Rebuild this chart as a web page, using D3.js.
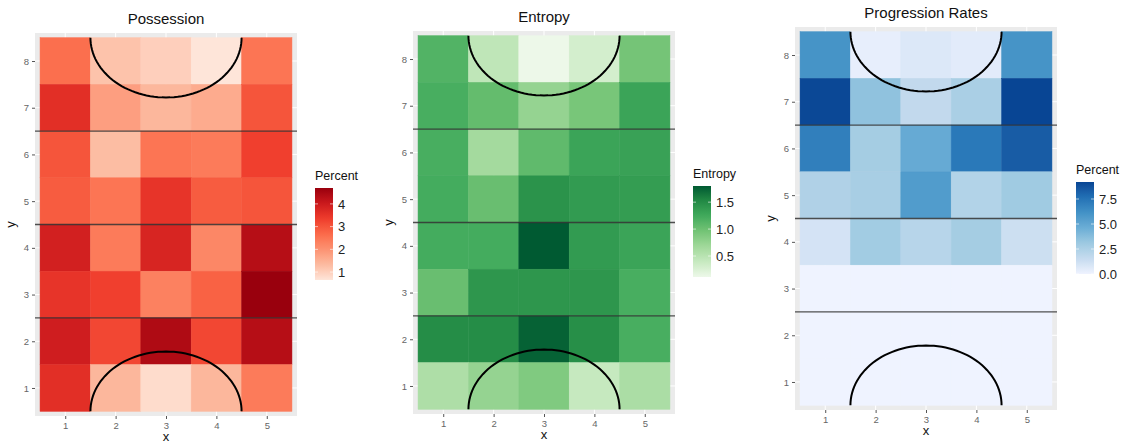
<!DOCTYPE html>
<html>
<head>
<meta charset="utf-8">
<script src="https://cdn.jsdelivr.net/npm/d3@7"></script>
<style>
  body { margin: 0; background: #fff; }
  svg { display: block; font-family: "Liberation Sans", Arial, sans-serif; }
</style>
</head>
<body>
<div id="chart"></div>
<script>
const xCats = [1, 2, 3, 4, 5]
const yCats = [8, 7, 6, 5, 4, 3, 2, 1]

// rows run from y = 8 (top) down to y = 1, columns x = 1..5
const possession = [
  [2.6, 1.2, 1.0, 0.65, 2.5],
  [3.6, 1.8, 1.4, 1.6, 3.0],
  [3.0, 1.3, 2.5, 2.4, 3.3],
  [2.9, 2.5, 3.5, 2.9, 3.0],
  [3.9, 2.4, 3.8, 2.2, 4.3],
  [3.5, 3.3, 2.3, 2.8, 4.7],
  [3.95, 3.2, 4.4, 3.2, 4.3],
  [3.6, 1.4, 0.8, 1.4, 2.4]
]
const entropy = [
  [1.15, 0.45, 0.11, 0.3, 0.95],
  [1.2, 1.05, 0.75, 0.93, 1.3],
  [1.2, 0.65, 1.07, 1.3, 1.32],
  [1.22, 1.02, 1.45, 1.38, 1.36],
  [1.22, 1.22, 1.8, 1.38, 1.3],
  [1.02, 1.42, 1.42, 1.42, 1.2],
  [1.5, 1.5, 1.75, 1.48, 1.2],
  [0.58, 0.75, 0.88, 0.4, 0.6]
]
const progression = [
  [6.0, 0.3, 0.7, 0.5, 6.0],
  [9.1, 3.5, 1.7, 2.6, 9.2],
  [7.0, 2.8, 4.8, 7.3, 8.4],
  [2.4, 2.7, 5.6, 2.3, 3.0],
  [1.0, 2.9, 2.1, 2.8, 1.3],
  [0, 0, 0, 0, 0],
  [0, 0, 0, 0, 0],
  [0, 0, 0, 0, 0]
]

const possessionTicks = [1, 2, 3, 4]
const entropyTicks = [0.5, 1.0, 1.5]
const progressionTicks = [0, 2.5, 5, 7.5]

// pitch markings
const halfLines = [2.5, 4.5, 6.5]
const boxArcs = [{ cx: 3, cy: 0.5, dir: 1 }, { cx: 3, cy: 8.5, dir: -1 }]
const arcRx = 1.5
const arcRy = 1.28

const reds = ['#fee5d9', '#fcbba1', '#fc9272', '#fb6a4a', '#ef3b2c', '#cb181d', '#99000d']
const greens = ['#edf8e9', '#c7e9c0', '#a1d99b', '#74c476', '#41ab5d', '#238b45', '#005a32']
const blues = ['#eff3ff', '#c6dbef', '#9ecae1', '#6baed6', '#4292c6', '#2171b5', '#084594']

const panels = [
  { title: 'Possession', legend: 'Percent', values: possession, ticks: possessionTicks, fmt: d3.format('d'), palette: reds,
    box: { left: 35, right: 297, top: 33, bottom: 416 }, titleY: 24, legendBox: { x: 315, y: 188, w: 18, h: 92 } },
  { title: 'Entropy', legend: 'Entropy', values: entropy, ticks: entropyTicks, fmt: d3.format('.1f'), palette: greens,
    box: { left: 413, right: 675, top: 31, bottom: 414 }, titleY: 22, legendBox: { x: 693, y: 186, w: 18, h: 91 } },
  { title: 'Progression Rates', legend: 'Percent', values: progression, ticks: progressionTicks, fmt: d3.format('.1f'), palette: blues,
    box: { left: 795, right: 1057, top: 27, bottom: 410 }, titleY: 18, legendBox: { x: 1076, y: 182, w: 18, h: 92 } }
]

const width = 1134
const height = 444

const svg = d3.select('#chart')
  .append('svg')
  .attr('width', width)
  .attr('height', height)

panels.forEach(p => {
  const g = svg.append('g')
  const { left, right, top, bottom } = p.box

  const x = d3.scaleLinear().domain([0.4, 5.6]).range([left, right])
  const y = d3.scaleLinear().domain([0.4, 8.6]).range([bottom, top])

  const cells = p.values.flatMap((row, i) => row.map((v, j) => ({ x: xCats[j], y: yCats[i], v })))

  const color = d3.scaleSequential(d3.piecewise(d3.interpolateLab, p.palette))
    .domain(d3.extent(cells, d => d.v))

  // panel background + grid
  g.append('rect')
    .attr('x', left).attr('y', top)
    .attr('width', right - left).attr('height', bottom - top)
    .attr('fill', '#ebebeb')

  g.append('g')
    .selectAll('line')
    .data(xCats)
    .join('line')
    .attr('x1', d => x(d)).attr('x2', d => x(d))
    .attr('y1', top).attr('y2', bottom)
    .attr('stroke', '#fff').attr('stroke-width', 1)

  g.append('g')
    .selectAll('line')
    .data(yCats)
    .join('line')
    .attr('x1', left).attr('x2', right)
    .attr('y1', d => y(d)).attr('y2', d => y(d))
    .attr('stroke', '#fff').attr('stroke-width', 1)

  // tiles
  g.append('g')
    .selectAll('rect')
    .data(cells)
    .join('rect')
    .attr('x', d => x(d.x - 0.5))
    .attr('y', d => y(d.y + 0.5))
    .attr('width', d => x(d.x + 0.5) - x(d.x - 0.5))
    .attr('height', d => y(d.y - 0.5) - y(d.y + 0.5))
    .attr('fill', d => color(d.v))
    .attr('stroke', d => color(d.v))
    .attr('stroke-width', 0.5)

  // half-way style lines
  g.append('g')
    .selectAll('line')
    .data(halfLines)
    .join('line')
    .attr('x1', left).attr('x2', right)
    .attr('y1', d => y(d)).attr('y2', d => y(d))
    .attr('stroke', '#333')
    .attr('stroke-opacity', 0.85)
    .attr('stroke-width', 1.4)

  // box arcs
  const arcLine = d3.line().x(d => x(d[0])).y(d => y(d[1]))
  const angles = d3.range(0, 181, 3).map(a => a * Math.PI / 180)
  g.append('g')
    .selectAll('path')
    .data(boxArcs)
    .join('path')
    .attr('d', a => arcLine(angles.map(t => [a.cx + arcRx * Math.cos(t), a.cy + a.dir * arcRy * Math.sin(t)])))
    .attr('fill', 'none')
    .attr('stroke', '#000')
    .attr('stroke-width', 2)

  // axes
  const xAxis = g.append('g')
    .attr('transform', `translate(0,${bottom})`)
    .call(d3.axisBottom(x).tickValues(xCats).tickFormat(d3.format('d')).tickSize(3).tickPadding(3))
  const yAxis = g.append('g')
    .attr('transform', `translate(${left},0)`)
    .call(d3.axisLeft(y).tickValues(yCats).tickFormat(d3.format('d')).tickSize(3).tickPadding(3))

  ;[xAxis, yAxis].forEach(ax => {
    ax.select('.domain').remove()
    ax.selectAll('.tick line').attr('stroke', '#555')
    ax.selectAll('.tick text')
      .attr('fill', '#666')
      .style('font-size', '9.5px')
      .style('font-family', '"Liberation Sans", Arial, sans-serif')
  })

  // titles
  g.append('text')
    .attr('x', (left + right) / 2).attr('y', p.titleY)
    .attr('text-anchor', 'middle')
    .style('font-size', '15px')
    .attr('fill', '#111')
    .text(p.title)

  g.append('text')
    .attr('x', (left + right) / 2).attr('y', Math.min(bottom + 25, height - 3))
    .attr('text-anchor', 'middle')
    .style('font-size', '13px')
    .attr('fill', '#111')
    .text('x')

  g.append('text')
    .attr('transform', `translate(${left - 20},${(top + bottom) / 2}) rotate(-90)`)
    .attr('text-anchor', 'middle')
    .style('font-size', '13px')
    .attr('fill', '#111')
    .text('y')

  // legend colourbar
  const lb = p.legendBox
  const ly = d3.scaleLinear().domain(color.domain()).range([lb.y + lb.h, lb.y])
  const gradId = 'grad-' + p.title.replace(/\s+/g, '')
  const grad = svg.append('defs').append('linearGradient')
    .attr('id', gradId)
    .attr('x1', 0).attr('y1', 1).attr('x2', 0).attr('y2', 0)
  grad.selectAll('stop')
    .data(d3.range(0, 1.0001, 0.05))
    .join('stop')
    .attr('offset', t => t)
    .attr('stop-color', t => color(color.domain()[0] + t * (color.domain()[1] - color.domain()[0])))

  const leg = g.append('g')
  leg.append('text')
    .attr('x', lb.x).attr('y', lb.y - 8)
    .style('font-size', '12.5px')
    .attr('fill', '#111')
    .text(p.legend)

  leg.append('rect')
    .attr('x', lb.x).attr('y', lb.y)
    .attr('width', lb.w).attr('height', lb.h)
    .attr('fill', `url(#${gradId})`)

  const lt = leg.selectAll('g.lt')
    .data(p.ticks)
    .join('g')
    .attr('class', 'lt')
    .attr('transform', d => `translate(0,${ly(d)})`)
  lt.append('line')
    .attr('x1', lb.x).attr('x2', lb.x + 3)
    .attr('stroke', '#fff').attr('stroke-opacity', 0.6)
  lt.append('line')
    .attr('x1', lb.x + lb.w - 3).attr('x2', lb.x + lb.w)
    .attr('stroke', '#fff').attr('stroke-opacity', 0.6)
  lt.append('text')
    .attr('x', lb.x + lb.w + 5)
    .attr('dy', '0.36em')
    .style('font-size', '13px')
    .attr('fill', '#222')
    .text(d => p.fmt(d))
})
</script>
</body>
</html>
